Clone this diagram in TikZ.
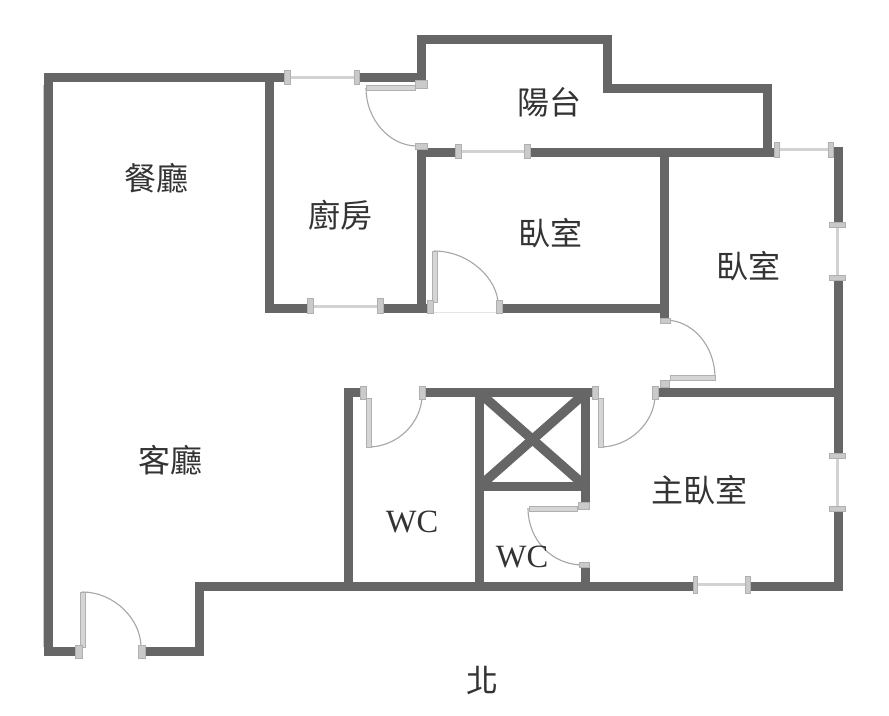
\documentclass[tikz,border=0pt]{standalone}
\usepackage{fontspec}
\setmainfont{Liberation Serif}
\newfontfamily\cjkfont{Noto Sans CJK TC}
\definecolor{wallc}{HTML}{666666}
\definecolor{framec}{HTML}{CACACA}
\definecolor{frameedge}{HTML}{B0B0B0}
\definecolor{winc}{HTML}{D2D2D2}
\definecolor{arcc}{HTML}{A6A6A6}
\definecolor{inkc}{HTML}{333333}
\tikzset{
  wall/.style={draw=wallc,line width=9pt,miter limit=10,line join=miter},
  thinwall/.style={draw=wallc,line width=9.5pt},
  winline/.style={draw=winc,line width=3pt},
  framebox/.style={fill=framec,draw=frameedge,line width=1pt},
  leaf/.style={fill=framec!80!white,draw=frameedge,line width=1pt},
  swing/.style={draw=arcc,line width=1.1pt},
  roomlabel/.style={font=\cjkfont\fontsize{32}{32}\selectfont,text=inkc,inner sep=0pt},
  wclabel/.style={font=\fontsize{32.5}{32.5}\selectfont,text=inkc,inner sep=0pt}
}
\begin{document}
\begin{tikzpicture}[x=1pt,y=-1pt]
\useasboundingbox[fill=white] (0,0) rectangle (889,715);
% window lines
\draw[winline] (287,77) -- (357,77);
\draw[winline] (458,151) -- (528,151);
\draw[winline] (310,306) -- (380,306);
\draw[winline] (777,149) -- (831,149);
\draw[winline] (837.5,225) -- (837.5,278);
\draw[winline] (837.5,456) -- (837.5,509);
\draw[winline] (695,584) -- (748,584);
\draw[draw=winc!60!white,line width=1pt] (433,312) -- (497,312);
% faint left edge of the outer wall
\draw[draw=framec,line width=2pt] (44,85) -- (44,647);
% walls
\draw[wall] (83,651.5) -- (48.5,651.5) -- (48.5,77) -- (285,77);
\draw[wall] (269,77) -- (269,308.5) -- (307,308.5);
\draw[wall] (360,77) -- (421.5,77);
\draw[wall] (421.5,82) -- (421.5,39.5) -- (607,39.5) -- (607,88) -- (767.5,88) -- (767.5,152);
\draw[wall] (421.5,145) -- (421.5,152) -- (456,152);
\draw[wall] (530,152) -- (775,152);
\draw[wall] (421.5,152) -- (421.5,308.5);
\draw[wall] (383,308.5) -- (428,308.5);
\draw[wall] (502,308.5) -- (664.5,308.5);
\draw[wall] (664.5,152) -- (664.5,318);
\draw[wall] (838,147) -- (838,223);
\draw[wall] (838,280) -- (838,455);
\draw[wall] (838,511) -- (838,586.5) -- (750,586.5);
\draw[wall] (658,392.5) -- (838,392.5);
\draw[wall] (360,392.5) -- (348.5,392.5) -- (348.5,586.5);
\draw[wall] (426,392.5) -- (592,392.5);
\draw[wall] (479.5,392.5) -- (479.5,586.5);
\draw[wall] (585,392.5) -- (585,505);
\draw[wall] (479.5,486) -- (585,486);
\draw[wall] (585,565) -- (585,586.5);
\draw[wall] (693,586.5) -- (199,586.5) -- (199,651.5) -- (145,651.5);
\draw[wall] (665,392.5) -- (665,380);
\draw[thinwall] (482,395) -- (583,484);
\draw[thinwall] (583,395) -- (482,484);
% door swings
\draw[swing] (366,88) .. controls (366,120) and (390,146) .. (417,146);
\draw[swing] (434,251) .. controls (470,251) and (498,280) .. (498,304);
\draw[swing] (368,447) .. controls (398,447) and (422,422) .. (422,395);
\draw[swing] (600,447) .. controls (630,447) and (655,422) .. (655,395);
\draw[swing] (715,378) .. controls (715,345) and (692,320) .. (665,320);
\draw[swing] (528,508) .. controls (528,540) and (552,565) .. (583,565);
\draw[swing] (82,592) .. controls (115,592) and (141,620) .. (141,647);
% door leaves
\draw[leaf] (366,85) rectangle (415,90);
\draw[leaf] (432,251) rectangle (437,302);
\draw[leaf] (366,398) rectangle (371,447);
\draw[leaf] (598,398) rectangle (603,447);
\draw[leaf] (670,375) rectangle (715,380);
\draw[leaf] (529,506) rectangle (577,511);
\draw[leaf] (80,592) rectangle (85,647);
% jambs and window frames
\draw[framebox] (284.5,70.5) rectangle (290.5,84);
\draw[framebox] (354,70.5) rectangle (359.5,84);
\draw[framebox] (415,80) rectangle (427,88);
\draw[framebox] (415,143.5) rectangle (427.5,149);
\draw[framebox] (455.5,144) rectangle (461.5,158);
\draw[framebox] (524.5,144) rectangle (530.5,158);
\draw[framebox] (307.5,298.5) rectangle (313,313);
\draw[framebox] (377.5,298.5) rectangle (383,313);
\draw[framebox] (427,300) rectangle (433,313);
\draw[framebox] (496,300) rectangle (502,313);
\draw[framebox] (660,318) rectangle (670,323.5);
\draw[framebox] (660,380) rectangle (669,387);
\draw[framebox] (360,386) rectangle (366.5,399);
\draw[framebox] (419.5,386) rectangle (425.5,399);
\draw[framebox] (592,386) rectangle (598,399);
\draw[framebox] (652,386) rectangle (658,399);
\draw[framebox] (578,502) rectangle (589,509);
\draw[framebox] (579,562) rectangle (589,567);
\draw[framebox] (774,142) rectangle (779,157);
\draw[framebox] (828,142) rectangle (833,157);
\draw[framebox] (829,222.5) rectangle (845,227.5);
\draw[framebox] (829,275.5) rectangle (845,280.5);
\draw[framebox] (829,453.5) rectangle (845,458.5);
\draw[framebox] (829,506.5) rectangle (845,511.5);
\draw[framebox] (693.5,576) rectangle (697.5,593);
\draw[framebox] (745,576) rectangle (750,593);
\draw[framebox] (75.5,645) rectangle (82,658);
\draw[framebox] (138.5,645) rectangle (145,658);
% labels
\node[roomlabel] (dining) at (156,178) {餐廳};
\node[roomlabel] (kitchen) at (340,215) {廚房};
\node[roomlabel] (balcony) at (549,102) {陽台};
\node[roomlabel] (bed1) at (550,233) {臥室};
\node[roomlabel] (bed2) at (748,266) {臥室};
\node[roomlabel] (master) at (699,490) {主臥室};
\node[roomlabel] (living) at (170,460) {客廳};
\node[wclabel] (wc1) at (412,522) {WC};
\node[wclabel] (wc2) at (522,557) {WC};
\node[roomlabel] (north) at (482,680) {北};
\end{tikzpicture}
\end{document}
